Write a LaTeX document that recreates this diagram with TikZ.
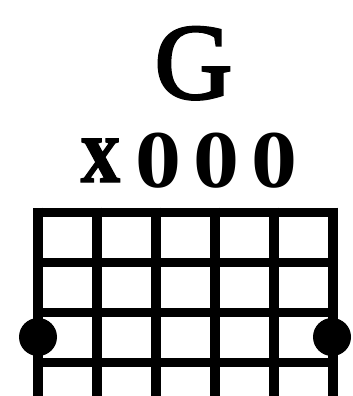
\documentclass[tikz,border=0pt]{standalone}
\usepackage{fontspec}
\setmainfont{Liberation Serif}
\newfontfamily\titlefont[FakeBold=2.5]{Liberation Serif}
\begin{document}
\begin{tikzpicture}[x=1pt,y=-1pt,
  stringline/.style={line width=10pt},
  fretline/.style={line width=9pt},
  fingerdot/.style={circle, fill=black, draw=none, inner sep=0pt, minimum size=38pt}]
\useasboundingbox (0,0) rectangle (353,396);
\node[anchor=base, inner sep=0pt, font=\titlefont\fontsize{108}{108}\selectfont] (title) at (193.5,98.5) {G};
\node[anchor=base, inner sep=0pt, font=\bfseries\fontsize{82}{82}\selectfont] (open) at (187.5,187)
  {\makebox[58pt]{\raisebox{5pt}{\scalebox{0.84}[1]{\fontsize{94}{94}\selectfont\addfontfeatures{FakeBold=1.5}x}}}\makebox[58pt]{\scalebox{1.12}[1]{0}}\makebox[58pt]{\scalebox{1.12}[1]{0}}\makebox[58pt]{\scalebox{1.12}[1]{0}}};
\foreach \i in {0,...,5} {
  \coordinate (st\i) at (38+59*\i,207.5);
  \coordinate (sb\i) at (38+59*\i,396);
  \draw[stringline] (st\i) -- (sb\i);
}
\foreach \j in {0,...,3} {
  \coordinate (fl\j) at (33,212+50*\j);
  \coordinate (fr\j) at (338,212+50*\j);
  \draw[fretline] (fl\j) -- (fr\j);
}
\node[fingerdot] (dotL) at (38,337) {};
\node[fingerdot] (dotR) at (332,337) {};
\end{tikzpicture}
\end{document}
